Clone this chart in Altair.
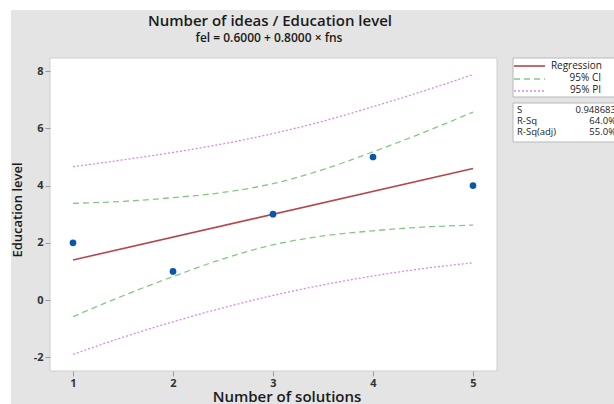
import altair as alt
import pandas as pd

# ---- data ----
obs_x = [1, 2, 3, 4, 5]
obs_y = [2, 1, 3, 5, 4]

fit_x = [1, 5]
fit_y = [1.4, 4.6]

band_x = [1, 1.5, 2, 2.5, 3, 3.5, 4, 4.5, 5]
ci_upper = [3.38, 3.45, 3.58, 3.76, 4.07, 4.56, 5.18, 5.85, 6.57]
ci_lower = [-0.58, 0.15, 0.82, 1.44, 1.93, 2.24, 2.42, 2.55, 2.62]
pi_upper = [4.66, 4.90, 5.16, 5.46, 5.82, 6.25, 6.76, 7.30, 7.88]
pi_lower = [-1.90, -1.30, -0.76, -0.27, 0.16, 0.53, 0.84, 1.10, 1.30]

x_ticks = [1, 2, 3, 4, 5]
y_ticks = [-2, 0, 2, 4, 6, 8]

title_text = "Number of ideas / Education level"
subtitle_text = "fel = 0.6000 + 0.8000 × fns"
x_title = "Number of solutions"
y_title = "Education level"
legend_labels = ["Regression", "95% CI", "95% PI"]
stat_names = ["S", "R-Sq", "R-Sq(adj)"]
stat_values = ["0.948683", "64.0%", "55.0%"]

W, H = 447, 313
FONT = "Open Sans"
RED = "#b5474b"
GREEN = "#86c786"
PURPLE = "#d98ae8"
BLUE = "#0a57a8"
GRAY_BG = "#e4e4e4"

xs = alt.Scale(domain=[0.77, 5.24], nice=False, zero=False)
ys = alt.Scale(domain=[-2.48, 8.46], nice=False, zero=False)

one = pd.DataFrame({"a": [0]})

bg = alt.Chart(one).mark_rect(color=GRAY_BG).encode(
    x=alt.value(-39), x2=alt.value(620), y=alt.value(-48), y2=alt.value(360)
)
plot_bg = alt.Chart(one).mark_rect(fill="white", stroke="#cfcfcf", strokeWidth=1).encode(
    x=alt.value(0), x2=alt.value(W), y=alt.value(0), y2=alt.value(H)
)

bands = pd.DataFrame({
    "x": band_x, "ci_u": ci_upper, "ci_l": ci_lower, "pi_u": pi_upper, "pi_l": pi_lower
})

axis_common = dict(title=None, grid=False, domain=False, tickColor="#9a9a9a", tickSize=5,
                   labelFontSize=11, labelFontWeight="bold",
                   labelColor="#333333", labelFont=FONT, zindex=2,
                   labelExpr="datum.value < 0 ? '-' + abs(datum.value) : '' + datum.value")

def band_line(col, color, dash):
    return alt.Chart(bands).mark_line(color=color, strokeDash=dash, strokeWidth=1.3,
                                      interpolate="monotone").encode(
        x=alt.X("x:Q", scale=xs),
        y=alt.Y(f"{col}:Q", scale=ys),
    )

axes_layer = alt.Chart(pd.DataFrame({"x": x_ticks[:1], "y": y_ticks[:1]})).mark_point(opacity=0).encode(
    x=alt.X("x:Q", scale=xs, axis=alt.Axis(values=x_ticks, labelPadding=1, **axis_common)),
    y=alt.Y("y:Q", scale=ys, axis=alt.Axis(values=y_ticks, labelPadding=2, **axis_common)),
)

pi_u = band_line("pi_u", PURPLE, [2, 2])
pi_l = band_line("pi_l", PURPLE, [2, 2])
ci_u = band_line("ci_u", GREEN, [6, 4])
ci_l = band_line("ci_l", GREEN, [6, 4])

fit = alt.Chart(pd.DataFrame({"x": fit_x, "y": fit_y})).mark_line(color=RED, strokeWidth=1.6).encode(
    x=alt.X("x:Q", scale=xs), y=alt.Y("y:Q", scale=ys)
)
pts = alt.Chart(pd.DataFrame({"x": obs_x, "y": obs_y})).mark_circle(color=BLUE, size=45, opacity=1).encode(
    x=alt.X("x:Q", scale=xs), y=alt.Y("y:Q", scale=ys)
)

def txt(text, x, y, size=11, weight="normal", align="center", angle=0, color="#222222"):
    kw = dict(text=text, font=FONT, fontSize=size, fontWeight=weight, align=align,
              baseline="middle", color=color)
    if angle:
        kw["angle"] = angle
    return alt.Chart(one).mark_text(**kw).encode(x=alt.value(x), y=alt.value(y))

title = txt(title_text, 220, -37, size=15, weight=600, color="#1a1a1a")
subtitle = txt(subtitle_text, 219, -20.5, size=12, weight=600, color="#1a1a1a")
xt = txt(x_title, 237, 25.5 + H, size=15, weight=600, color="#1a1a1a")
yt = txt(y_title, -32, 152, size=13, weight=600, angle=270, color="#1a1a1a")

# legend boxes
leg_box = alt.Chart(one).mark_rect(fill="white", stroke="#b8b8b8").encode(
    x=alt.value(463), x2=alt.value(575), y=alt.value(0), y2=alt.value(39)
)
stat_box = alt.Chart(one).mark_rect(fill="white", stroke="#b8b8b8").encode(
    x=alt.value(463), x2=alt.value(575), y=alt.value(45), y2=alt.value(84)
)
leg_red = alt.Chart(one).mark_rule(color=RED, strokeWidth=1.6).encode(
    x=alt.value(464), x2=alt.value(495), y=alt.value(8))
leg_green = alt.Chart(one).mark_rule(color=GREEN, strokeWidth=1.3, strokeDash=[6, 4]).encode(
    x=alt.value(464), x2=alt.value(495), y=alt.value(21))
leg_purple = alt.Chart(one).mark_rule(color=PURPLE, strokeWidth=1.3, strokeDash=[2, 2]).encode(
    x=alt.value(464), x2=alt.value(495), y=alt.value(33))

leg_texts = [
    txt(legend_labels[0], 552, 8, size=10, align="right"),
    txt(legend_labels[1], 551, 20, size=10, align="right"),
    txt(legend_labels[2], 551, 31.5, size=10, align="right"),
]
stat_texts = []
for i, (n, v) in enumerate(zip(stat_names, stat_values)):
    yy = 51.5 + i * 11.2
    stat_texts.append(txt(n, 467, yy, size=9.5, align="left"))
    stat_texts.append(txt(v, 566, yy, size=9.5, align="right"))

chart = alt.layer(
    bg, plot_bg, axes_layer, pi_u, pi_l, ci_u, ci_l, fit, pts,
    title, subtitle, xt, yt,
    leg_box, stat_box, leg_red, leg_green, leg_purple, *leg_texts, *stat_texts,
).properties(
    width=W, height=H,
    autosize=alt.AutoSizeParams(type="none"),
    padding={"left": 50, "top": 58, "right": 117, "bottom": 33},
    background="white",
).configure_view(stroke=None, fill=None)

chart.save("out.html", embed_options={"renderer": "svg", "actions": False})
